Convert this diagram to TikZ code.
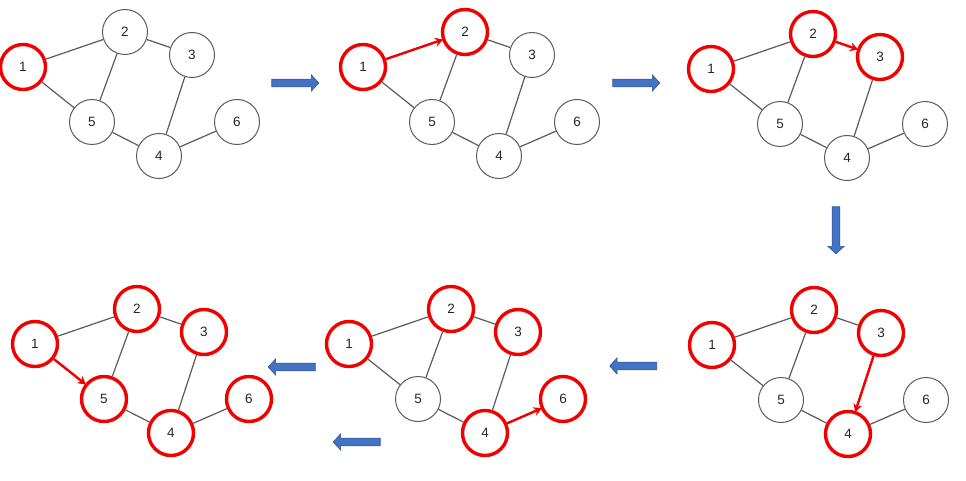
\documentclass[tikz,border=0pt]{standalone}
\usepackage{fontspec}
\setmainfont{Liberation Sans}
\usetikzlibrary{shapes.arrows,arrows.meta}
\definecolor{blockfill}{HTML}{4472C4}
\definecolor{blockline}{HTML}{2F528F}
\definecolor{vred}{HTML}{F20000}
\definecolor{vgray}{HTML}{5A5A5A}
\tikzset{
  vnode/.style={circle, draw=vgray, line width=1pt, minimum size=45pt, inner sep=0pt,
    font=\fontsize{13.5}{13.5}\selectfont, text=black!85},
  vis/.style={vnode, draw=vred, line width=3.4pt},
  edge/.style={draw=vgray, line width=1.2pt},
  redarrow/.style={draw=vred, line width=2.4pt, -{Stealth[length=8pt,width=9pt]}, shorten >=-1pt},
  blockarrow/.style={single arrow, fill=blockfill, draw=blockline, line width=0.6pt,
    minimum height=47pt, minimum width=16pt, inner xsep=0pt, inner ysep=3.6pt,
    single arrow head extend=4.2pt, single arrow tip angle=95, single arrow head indent=0pt}
}
\newcommand\mygraph[8]{%
\begin{scope}[shift={#1}, name prefix=#2-]
\node[#3] (n1) at (23,67) {1};
\node[#4] (n2) at (125,32) {2};
\node[#5] (n3) at (192,55) {3};
\node[#6] (n4) at (159,156) {4};
\node[#7] (n5) at (92,122) {5};
\node[#8] (n6) at (237,122) {6};
\draw[edge] (n1) -- (n2);
\draw[edge] (n1) -- (n5);
\draw[edge] (n2) -- (n5);
\draw[edge] (n2) -- (n3);
\draw[edge] (n3) -- (n4);
\draw[edge] (n5) -- (n4);
\draw[edge] (n4) -- (n6);
\end{scope}}
\begin{document}
\begin{tikzpicture}[x=1pt,y=-1pt]
\useasboundingbox (0,0) rectangle (966,481);
\mygraph{(0,0)}{a}{vis}{vnode}{vnode}{vnode}{vnode}{vnode}
\mygraph{(340,0)}{b}{vis}{vis}{vnode}{vnode}{vnode}{vnode}
\mygraph{(688,2)}{c}{vis}{vis}{vis}{vnode}{vnode}{vnode}
\mygraph{(689,278)}{d}{vis}{vis}{vis}{vis}{vnode}{vnode}
\mygraph{(326,277)}{e}{vis}{vis}{vis}{vis}{vnode}{vis}
\mygraph{(12,277)}{f}{vis}{vis}{vis}{vis}{vis}{vis}
\draw[redarrow] (b-n1) -- (b-n2);
\draw[redarrow] (c-n2) -- (c-n3);
\draw[redarrow] (d-n3) -- (d-n4);
\draw[redarrow] (e-n4) -- (e-n6);
\draw[redarrow] (f-n1) -- (f-n5);
\node[blockarrow] (r1) at (293.5,83) {};
\node[blockarrow] (r2) at (634.5,83) {};
\node[blockarrow, rotate=-90] (dn) at (836,228.5) {};
\node[blockarrow, rotate=180] (l1) at (635,366) {};
\node[blockarrow, rotate=180] (l2) at (293.5,367) {};
\node[blockarrow, rotate=180] (l3) at (358.5,442) {};
\end{tikzpicture}
\end{document}
